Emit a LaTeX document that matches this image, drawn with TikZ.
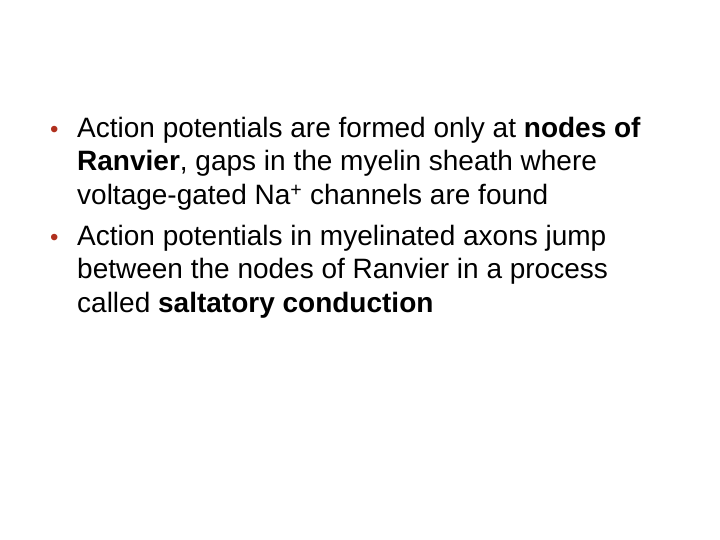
\documentclass[tikz,border=0pt]{standalone}
\usepackage{fontspec}
\setmainfont{Liberation Sans}
\definecolor{bul}{HTML}{B0301E}
\begin{document}
\begin{tikzpicture}[x=1bp,y=1bp,
  line/.style={anchor=base west,inner sep=0pt,font=\fontsize{28bp}{32bp}\selectfont},
  bullet/.style={anchor=base west,inner sep=0pt,text=bul,font=\fontsize{24bp}{28bp}\selectfont}]
\useasboundingbox (0,0) rectangle (720,-540);
\node[bullet] (b1) at (50,-138) {•};
\node[line] (l1) at (77,-138) {Action potentials are formed only at \textbf{nodes of}};
\node[line] (l2) at (77,-171) {\textbf{Ranvier}, gaps in the myelin sheath where};
\node[line] (l3) at (77,-205) {voltage-gated Na\textsuperscript{+} channels are found};
\node[bullet] (b2) at (50,-246) {•};
\node[line] (l4) at (77,-246) {Action potentials in myelinated axons jump};
\node[line] (l5) at (77,-279) {between the nodes of Ranvier in a process};
\node[line] (l6) at (77,-312) {called \textbf{saltatory conduction}};
\end{tikzpicture}
\end{document}
